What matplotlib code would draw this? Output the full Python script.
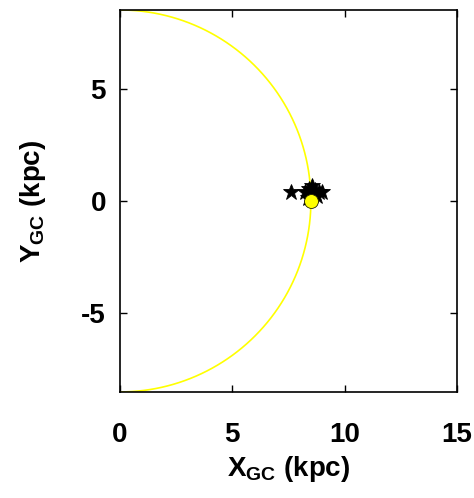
import numpy as np
import matplotlib
matplotlib.use('Agg')
import matplotlib.pyplot as plt

plt.rcParams['font.family'] = ['Liberation Sans', 'DejaVu Sans']
plt.rcParams['font.weight'] = 'bold'
plt.rcParams['mathtext.fontset'] = 'custom'
plt.rcParams['mathtext.rm'] = 'Liberation Sans:bold'
plt.rcParams['mathtext.bf'] = 'Liberation Sans:bold'
plt.rcParams['mathtext.default'] = 'bf'
plt.rcParams['axes.unicode_minus'] = False

# solar circle radius and sun position (kpc)
r_sun = 8.5
sun_x = [8.5]
sun_y = [0.0]

# stars (kpc)
star_x = [7.6, 8.25, 8.4, 8.55, 8.7, 8.85, 9.0, 8.6, 8.35, 8.75]
star_y = [0.42, 0.42, 0.55, 0.65, 0.5, 0.4, 0.42, 0.25, 0.15, 0.2]

xticks = [0, 5, 10, 15]
yticks = [-5, 0, 5]

fig = plt.figure(figsize=(4.74, 4.98), dpi=100)
ax = fig.add_axes([0.253, 0.213, 0.711, 0.767])

theta = np.linspace(-np.pi / 2, np.pi / 2, 400)
ax.plot(r_sun * np.cos(theta), r_sun * np.sin(theta), color='#ffff00', lw=1.2)

ax.plot(star_x, star_y, '*', color='black', markersize=12, markeredgewidth=0.6)
ax.plot(sun_x, sun_y, 'o', color='#ffff00', markeredgecolor='#202000',
        markersize=10, markeredgewidth=0.6)

ax.set_xlim(0, 15)
ax.set_ylim(-8.5, 8.5)
ax.set_xticks(xticks)
ax.set_yticks(yticks)
ax.tick_params(direction='in', top=True, right=True, length=5, width=1,
               labelsize=20)
ax.tick_params(axis='x', pad=22)
ax.tick_params(axis='y', pad=10)
for s in ax.spines.values():
    s.set_linewidth(1.2)

ax.set_xlabel(r'X$_{\mathbf{GC}}$ (kpc)', fontsize=20, fontweight='bold', labelpad=4)
ax.set_ylabel(r'Y$_{\mathbf{GC}}$ (kpc)', fontsize=20, fontweight='bold', labelpad=24)

fig.savefig('out.png', dpi=100)
